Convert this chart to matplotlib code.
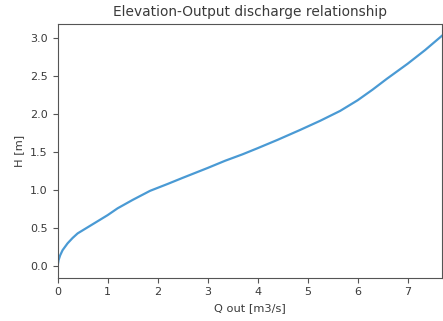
#!/usr/bin/env python3

import matplotlib

matplotlib.use("Agg")
import matplotlib.pyplot as plt

# Stage-discharge curve of the outlet: outflow Q [m3/s] against water level H [m]
q_out = [0.0, 0.02, 0.05, 0.1, 0.2, 0.3, 0.4, 0.55, 0.75, 1.0, 1.2, 1.5, 1.85, 2.2, 2.5,
         3.0, 3.35, 3.7, 4.0, 4.4, 4.85, 5.25, 5.65, 6.0, 6.3, 6.58, 7.0, 7.35, 7.69]
h_level = [0.0, 0.08, 0.14, 0.21, 0.30, 0.37, 0.43, 0.49, 0.57, 0.67, 0.76, 0.87, 0.99, 1.08, 1.16,
           1.29, 1.385, 1.47, 1.55, 1.66, 1.79, 1.91, 2.04, 2.18, 2.32, 2.46, 2.66, 2.84, 3.03]

TEXT = "#3a3a3a"
SPINE = "#555555"


def main():
    plt.rcParams["font.family"] = "DejaVu Sans"
    fig = plt.figure(figsize=(4.43, 3.21), dpi=100)
    ax = fig.add_axes([0.130, 0.135, 0.868, 0.790])

    ax.plot(q_out, h_level, color="#4a9ad4", linewidth=1.6)
    ax.set_xlim(0, max(q_out))

    ax.set_title("Elevation-Output discharge relationship", fontsize=9.9, color=TEXT)
    ax.set_xlabel("Q out [m3/s]", fontsize=8.2, color=TEXT)
    ax.set_ylabel("H [m]", fontsize=8.2, color=TEXT)
    ax.tick_params(labelsize=8, labelcolor=TEXT, color=SPINE)
    for s in ax.spines.values():
        s.set_color(SPINE)

    fig.savefig("out.png", dpi=100)


if __name__ == "__main__":
    main()
